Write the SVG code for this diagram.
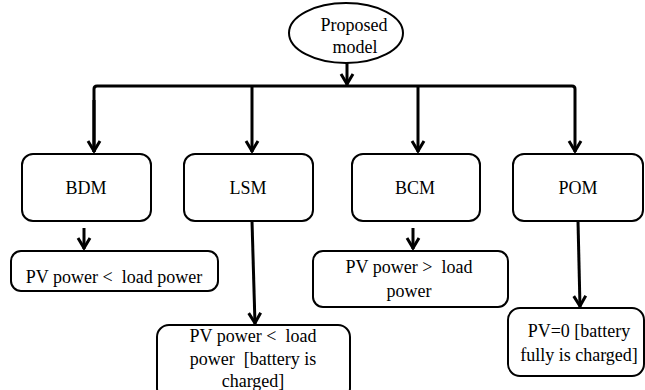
<svg xmlns="http://www.w3.org/2000/svg" width="645" height="390" viewBox="0 0 645 390">
<style>
.box{fill:#fff;stroke:#000;stroke-width:2}
.t{font-family:'Liberation Serif','Times New Roman',Times,serif;font-size:18px;fill:#000;text-anchor:middle}
.c{fill:none;stroke:#000;stroke-width:3}
</style>
<defs>
<marker id="ah" markerUnits="userSpaceOnUse" markerWidth="16" markerHeight="16" viewBox="-8 -8 16 16" refX="0" refY="0" orient="auto" overflow="visible">
<path d="M-11,-6 L-1,0 L-11,6" fill="none" stroke="#000" stroke-width="3"/>
</marker>
</defs>
<rect width="645" height="390" fill="#fff"/>
<g id="connectors">
<path class="c" d="M347,63 L347,85" marker-end="url(#ah)"/>
<path class="c" d="M94,152 L94,89 Q94,86 97,86 L572,86 Q575,86 575,89 L575,152" marker-end="url(#ah)"/>
<path class="c" d="M94,100 L94,152" marker-end="url(#ah)"/>
<path class="c" d="M252,86 L252,152" marker-end="url(#ah)"/>
<path class="c" d="M418,86 L418,152" marker-end="url(#ah)"/>
<path class="c" d="M84,228 L84,249" marker-end="url(#ah)"/>
<path class="c" d="M413,228 L413,249" marker-end="url(#ah)"/>
<path class="c" d="M252,221 L255,324" marker-end="url(#ah)"/>
<path class="c" d="M578,221 L580,307" marker-end="url(#ah)"/>
</g>
<g id="proposed">
<ellipse cx="346" cy="33" rx="57" ry="30" class="box"/>
<text class="t" x="354" y="31" font-family="Liberation Serif, serif">Proposed</text>
<text class="t" x="355" y="53" font-family="Liberation Serif, serif">model</text>
</g>
<g id="bdm">
<rect class="box" x="22" y="154" width="129" height="67" rx="11"/>
<text class="t" x="86" y="194">BDM</text>
</g>
<g id="lsm">
<rect class="box" x="184" y="154" width="129" height="67" rx="11"/>
<text class="t" x="248" y="194">LSM</text>
</g>
<g id="bcm">
<rect class="box" x="352" y="154" width="128" height="67" rx="11"/>
<text class="t" x="415" y="194">BCM</text>
</g>
<g id="pom">
<rect class="box" x="513" y="154" width="130" height="67" rx="11"/>
<text class="t" x="578" y="194">POM</text>
</g>
<g id="bdm-cond">
<rect class="box" x="11" y="251" width="207" height="40" rx="10"/>
<text class="t" x="114" y="283" xml:space="preserve">PV power &lt;  load power</text>
</g>
<g id="bcm-cond">
<rect class="box" x="313" y="251" width="195" height="56" rx="10"/>
<text class="t" x="409" y="273" xml:space="preserve">PV power &gt;  load</text>
<text class="t" x="409" y="297">power</text>
</g>
<g id="lsm-cond">
<rect class="box" x="157" y="325" width="193" height="75" rx="12"/>
<text class="t" x="253" y="342" xml:space="preserve">PV power &lt;  load</text>
<text class="t" x="253" y="365" xml:space="preserve">power  [battery is</text>
<text class="t" x="253" y="387">charged]</text>
</g>
<g id="pom-cond">
<rect class="box" x="508" y="308" width="136" height="68" rx="12"/>
<text class="t" x="579" y="337">PV=0 [battery</text>
<text class="t" x="579" y="361">fully is charged]</text>
</g>
</svg>
